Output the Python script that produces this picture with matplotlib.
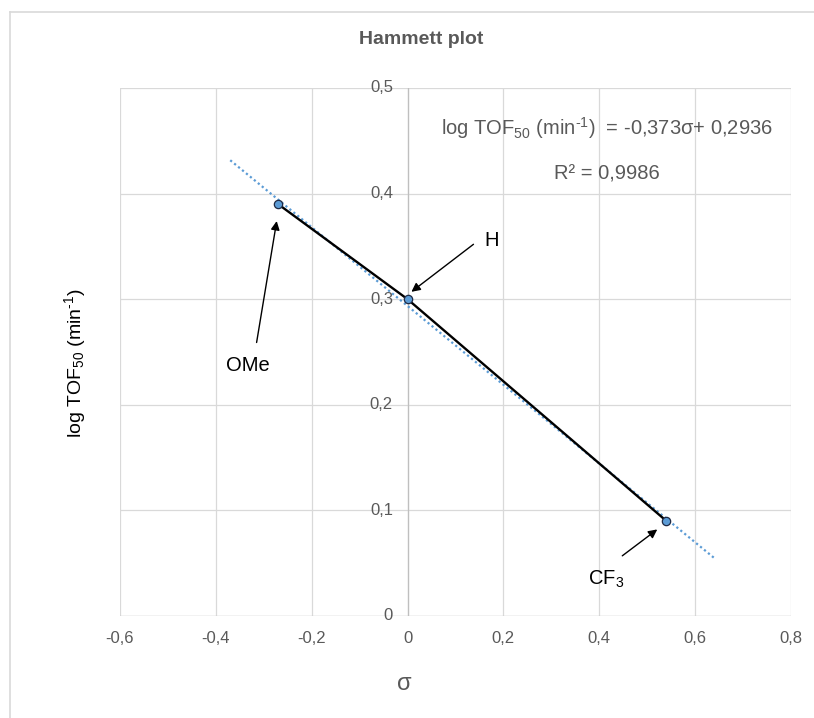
import numpy as np
import matplotlib
matplotlib.use("Agg")
import matplotlib.pyplot as plt
from matplotlib.lines import Line2D
import matplotlib.transforms as mtransforms

plt.rcParams['font.family'] = ['Liberation Sans', 'DejaVu Sans']
plt.rcParams['mathtext.fontset'] = 'custom'
plt.rcParams['mathtext.rm'] = 'Liberation Sans'
plt.rcParams['mathtext.it'] = 'Liberation Sans:italic'
plt.rcParams['mathtext.bf'] = 'Liberation Sans:bold'
plt.rcParams['mathtext.default'] = 'regular'

# Data
substituents = ["OMe", "H", "CF$_3$"]
sigma = [-0.27, 0.0, 0.54]
log_tof = [0.39, 0.30, 0.09]
x_ticks = [-0.6, -0.4, -0.2, 0.0, 0.2, 0.4, 0.6, 0.8]
x_tick_labels = ["-0,6", "-0,4", "-0,2", "0", "0,2", "0,4", "0,6", "0,8"]
y_ticks = [0.0, 0.1, 0.2, 0.3, 0.4, 0.5]
y_tick_labels = ["0", "0,1", "0,2", "0,3", "0,4", "0,5"]
# annotation text positions and arrow tails/heads (data coordinates)
label_pos = [(-0.333, 0.237), (0.175, 0.356), (0.415, 0.035)]
arrow_tail = [(-0.315, 0.259), (0.1375, 0.352), (0.448, 0.057)]
arrow_head = [(-0.273, 0.374), (0.008, 0.307), (0.521, 0.082)]

W, H = 814, 718
fig = plt.figure(figsize=(W / 100, H / 100), dpi=100)
ax = fig.add_axes([120 / W, 1 - 616 / H, (791 - 120) / W, (616 - 88) / H])

grid_c = '#D9D9D9'
axis_c = '#BFBFBF'
txt_c = '#595959'

ax.set_xlim(-0.6, 0.8)
ax.set_ylim(0, 0.5)
for s in ax.spines.values():
    s.set_visible(False)
ax.set_xticks(x_ticks)
ax.set_yticks(y_ticks)
ax.tick_params(length=0, labelbottom=False, labelleft=False)
ax.grid(True, color=grid_c, lw=0.9)
ax.set_axisbelow(True)
ax.axvline(0, color=axis_c, lw=0.9, zorder=1)
ax.axhline(0, color=axis_c, lw=0.9, zorder=1)

# tick labels placed at the crossing axes (x=0, y=0)
ytr = mtransforms.offset_copy(ax.transData, fig=fig, x=-10.5, y=0, units='points')
for v, lab in zip(y_ticks, y_tick_labels):
    ax.text(0, v, lab, transform=ytr, ha='right', va='center', fontsize=12, color=txt_c)
xtr = mtransforms.offset_copy(ax.transData, fig=fig, x=0, y=-16, units='points')
for v, lab in zip(x_ticks, x_tick_labels):
    ax.text(v, 0, lab, transform=xtr, ha='center', va='center', fontsize=12, color=txt_c,
            clip_on=False)

# linear trend line (forecast 0.1 both sides)
slope, intercept = np.polyfit(sigma, log_tof, 1)
tx = np.array([min(sigma) - 0.1, max(sigma) + 0.1])
ax.plot(tx, slope * tx + intercept, color='#5B9BD5', lw=1.6, ls=(0, (1, 1.3)), zorder=2)

# data series
ax.plot(sigma, log_tof, color='black', lw=1.7, zorder=3,
        marker='o', ms=6, mfc='#5B9BD5', mec='#1F2A44', mew=0.9)

# annotations
for lab, pos, t, h in zip(substituents, label_pos, arrow_tail, arrow_head):
    ax.annotate('', xy=h, xytext=t,
                arrowprops=dict(arrowstyle='-|>', color='black', lw=1.0,
                                mutation_scale=13, shrinkA=0, shrinkB=0))
    ax.text(pos[0], pos[1], lab, ha='center', va='center', fontsize=14.5, color='black')

# equation
ax.text(0.4167, 0.462, 'log TOF$_{50}$ (min$^{\u20101}$)  = -0,373$\\sigma$+ 0,2936',
        ha='center', va='center', fontsize=14.5, color=txt_c)
ax.text(0.4167, 0.4186, 'R² = 0,9986', ha='center', va='center', fontsize=14.5, color=txt_c)

# titles and labels
fig.text(421 / W, 1 - 39 / H, 'Hammett plot', ha='center', va='center',
         fontsize=14, fontweight='bold', color=txt_c)
fig.text(404 / W, 1 - 684 / H, 'σ', ha='center', va='center', fontsize=17, color=txt_c)
fig.text(75 / W, 1 - 363 / H, 'log TOF$_{50}$ (min$^{\u20101}$)', ha='center', va='center',
         rotation=90, fontsize=14, color='black')

# chart border
fig.add_artist(Line2D([9.5 / W, 9.5 / W], [0, 1 - 12 / H], transform=fig.transFigure,
                      color=grid_c, lw=1.2))
fig.add_artist(Line2D([9.5 / W, 1], [1 - 12 / H, 1 - 12 / H], transform=fig.transFigure,
                      color=grid_c, lw=1.2))

fig.savefig('out.png', dpi=100, facecolor='white')
